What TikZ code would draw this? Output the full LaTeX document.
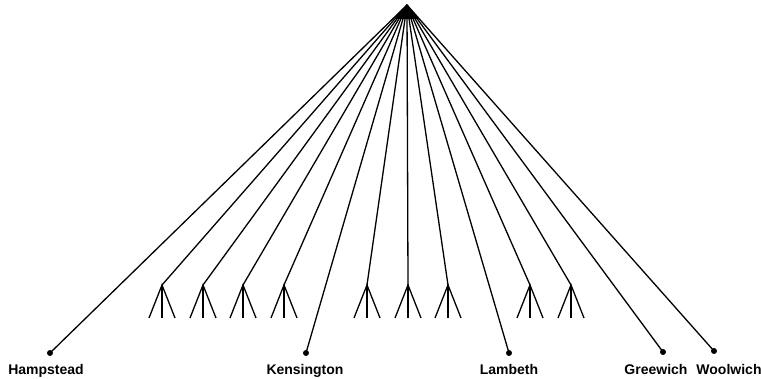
\documentclass[tikz,border=0pt]{standalone}
\usepackage{fontspec}
\setmainfont{Liberation Sans}
\begin{document}
\begin{tikzpicture}[x=1pt,y=-1pt,line width=1.3pt,
  leaf/.style={circle,fill,inner sep=0pt,minimum size=6pt},
  town/.style={font=\fontsize{14}{16}\selectfont\bfseries,anchor=base,inner sep=0pt}]
  \useasboundingbox (0,0) rectangle (761,379);
  \coordinate (root) at (407,5);
  \fill (root) -- (395,19) -- (419,19) -- cycle;
  % boroughs
  \node[leaf] (hamp) at (50,353) {};
  \node[leaf] (kens) at (306,353) {};
  \node[leaf] (lamb) at (509,353) {};
  \node[leaf] (gree) at (663,352) {};
  \node[leaf] (wool) at (714,351) {};
  \node[town] (hamplab) at (46,375) {Hampstead};
  \node[town] (kenslab) at (305,375) {Kensington};
  \node[town] (lamblab) at (509,375) {Lambeth};
  \node[town] (greelab) at (656,375) {Greewich};
  \node[town] (woollab) at (729,375) {Woolwich};
  \foreach \n in {hamp,kens,lamb,gree,wool}
    \draw (root) -- (\n.center);
  % unnamed groups of three
  \foreach \x/\n in {162/a,203/b,243/c,284/d,367/e,408/f,448/g,530/h,571/i}{
    \coordinate (f\n) at (\x,285);
    \coordinate (f\n l) at (\x-13,318);
    \coordinate (f\n m) at (\x,318);
    \coordinate (f\n r) at (\x+13,318);
    \draw (root) -- (f\n);
    \draw (f\n l) -- (f\n) -- (f\n r);
    \draw (f\n) -- (f\n m);
  }
\end{tikzpicture}
\end{document}
